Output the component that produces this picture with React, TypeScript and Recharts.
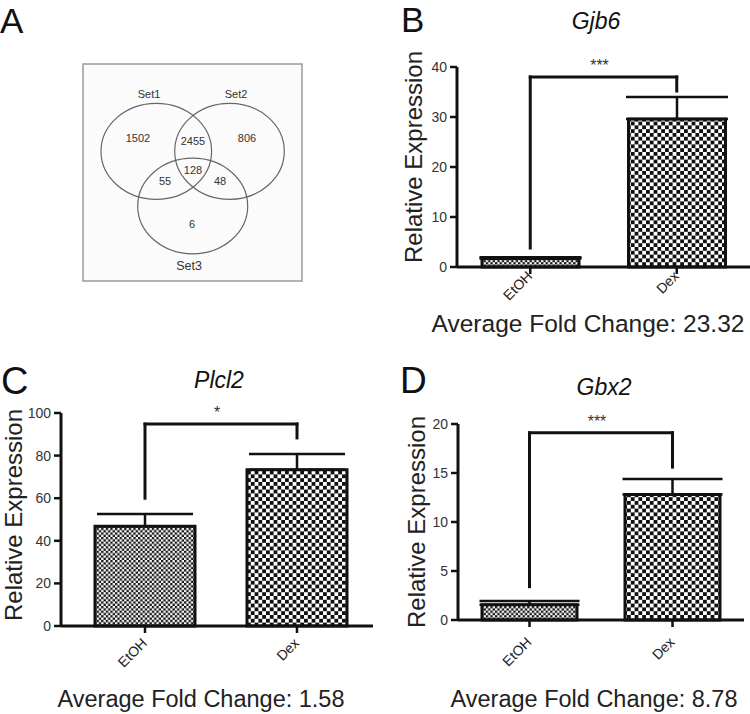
import React from 'react';
import {
  BarChart,
  Bar,
  XAxis,
  YAxis,
  ErrorBar,
  Cell,
  ReferenceLine,
  ScatterChart,
  Scatter,
  ReferenceArea,
} from 'recharts';

const FONT = '"Liberation Sans", Arial, Helvetica, sans-serif';

// ---------- data ----------
const groups = ['EtOH', 'Dex'];

const gjb6Mean = [1.7, 29.6];
const gjb6Sem = [0.25, 4.4];
const gjb6Ticks = [0, 10, 20, 30, 40];
const gjb6Bracket = [38, 3.8, 35.2]; // top, left leg end, right leg end
const gjb6Stars = '***';
const gjb6Fold = 'Average Fold Change: 23.32';

const plcl2Mean = [46.8, 73.4];
const plcl2Sem = [5.8, 7.4];
const plcl2Ticks = [0, 20, 40, 60, 80, 100];
const plcl2Bracket = [94.8, 60, 88.3];
const plcl2Stars = '*';
const plcl2Fold = 'Average Fold Change: 1.58';

const gbx2Mean = [1.55, 12.8];
const gbx2Sem = [0.4, 1.6];
const gbx2Ticks = [0, 5, 10, 15, 20];
const gbx2Bracket = [19.1, 3.4, 15.6];
const gbx2Stars = '***';
const gbx2Fold = 'Average Fold Change: 8.78';

const vennSetNames = ['Set1', 'Set2', 'Set3'];
const vennSetX = [156.3, 229.5, 192.7];
const vennSetY = [151.3, 151.3, 206];
const vennSetRx = [55.3, 54.8, 55];
const vennSetRy = [48, 48, 47.8];
const vennSetLabelX = [149, 236, 189];
const vennSetLabelY = [94, 94, 266];
const vennCounts = ['1502', '2455', '806', '128', '55', '48', '6'];
const vennCountX = [138, 193, 247, 193, 165, 220, 192];
const vennCountY = [138, 141, 138, 170, 181, 181, 224];

// ---------- helpers ----------
function Patterns({ id }: { id: string }) {
  const s = 2.3;
  const b = 3.8;
  return (
    <defs>
      <pattern id={`small-${id}`} width={2 * s} height={2 * s} patternUnits="userSpaceOnUse">
        <rect width={2 * s} height={2 * s} fill="#fff" />
        <rect width={s} height={s} fill="#111" />
        <rect x={s} y={s} width={s} height={s} fill="#111" />
      </pattern>
      <pattern id={`big-${id}`} width={2 * b} height={2 * b} patternUnits="userSpaceOnUse">
        <rect width={2 * b} height={2 * b} fill="#fff" />
        <rect width={b} height={b} fill="#111" />
        <rect x={b} y={b} width={b} height={b} fill="#111" />
      </pattern>
    </defs>
  );
}

function XTick(props: any) {
  const { x, y, payload, dyOff } = props;
  const ax = x + 3;
  const ay = y + dyOff;
  return (
    <text
      x={ax}
      y={ay}
      transform={`rotate(-45, ${ax}, ${ay})`}
      textAnchor="end"
      fontSize={14}
      fill="#222"
      fontFamily={FONT}
    >
      {payload.value}
    </text>
  );
}

type PanelProps = {
  id: string;
  mean: number[];
  sem: number[];
  ticks: number[];
  bracket: number[];
  stars: string;
  left: number;
  top: number;
  width: number;
  height: number;
  margin: { top: number; right: number; bottom: number; left: number };
  yAxisWidth: number;
  padLeft: number;
  barSize: number;
  capWidth: number;
  xTickDy: number;
  yLabelX: number;
  yLabelY: number;
  tickFont: number;
};

const X_AXIS_H = 30;

function Panel(p: PanelProps) {
  const data = groups.map((g, i) => ({ group: g, value: p.mean[i], err: [0, p.sem[i]] }));
  const fills = [`url(#small-${p.id})`, `url(#big-${p.id})`];
  const max = p.ticks[p.ticks.length - 1];
  const [bTop, bLeft, bRight] = p.bracket;
  const lineProps = { stroke: '#111', strokeWidth: 3, strokeLinecap: 'square' as const, ifOverflow: 'visible' as const };
  const margin = { ...p.margin, bottom: p.margin.bottom - X_AXIS_H };
  return (
    <div style={{ position: 'absolute', left: p.left, top: p.top }}>
      <BarChart width={p.width} height={p.height} data={data} margin={margin}>
        <Patterns id={p.id} />
        <XAxis
          dataKey="group"
          interval={0}
          height={X_AXIS_H}
          padding={{ left: p.padLeft, right: 0 }}
          axisLine={{ stroke: '#111', strokeWidth: 3 }}
          tickLine={{ stroke: '#111', strokeWidth: 2.5 }}
          tickSize={7}
          tick={<XTick dyOff={p.xTickDy} />}
        />
        <YAxis
          domain={[0, max]}
          ticks={p.ticks}
          interval={0}
          width={p.yAxisWidth}
          axisLine={{ stroke: '#111', strokeWidth: 3 }}
          tickLine={{ stroke: '#111', strokeWidth: 2.5 }}
          tickSize={7}
          tickMargin={3}
          tick={{ fontSize: p.tickFont, fill: '#333', fontFamily: FONT }}
          label={() => (
            <text
              x={p.yLabelX}
              y={p.yLabelY}
              transform={`rotate(-90, ${p.yLabelX}, ${p.yLabelY})`}
              textAnchor="middle"
              fontSize={24}
              fill="#222"
              fontFamily={FONT}
            >
              Relative Expression
            </text>
          )}
        />
        <Bar dataKey="value" barSize={p.barSize} stroke="#111" strokeWidth={3} isAnimationActive={false}>
          {data.map((d, i) => (
            <Cell key={d.group} fill={fills[i]} />
          ))}
          <ErrorBar
            dataKey="err"
            direction="y"
            width={p.capWidth}
            stroke="#111"
            strokeWidth={2.5}
            isAnimationActive={false}
          />
        </Bar>
        <ReferenceLine
          segment={[
            { x: groups[0], y: bTop },
            { x: groups[1], y: bTop },
          ]}
          {...lineProps}
          label={(lp: any) => {
            const vb = lp.viewBox || {};
            return (
              <text
                x={vb.x + vb.width / 2 - 4}
                y={vb.y - 6}
                textAnchor="middle"
                fontSize={16}
                fill="#333"
                fontFamily={FONT}
              >
                {p.stars}
              </text>
            );
          }}
        />
        <ReferenceLine
          segment={[
            { x: groups[0], y: bTop },
            { x: groups[0], y: bLeft },
          ]}
          {...lineProps}
        />
        <ReferenceLine
          segment={[
            { x: groups[1], y: bTop },
            { x: groups[1], y: bRight },
          ]}
          {...lineProps}
        />
      </BarChart>
    </div>
  );
}

function Venn() {
  const sets = vennSetNames.map((n, i) => ({
    name: n,
    x: vennSetX[i],
    y: vennSetY[i],
    rx: vennSetRx[i],
    ry: vennSetRy[i],
  }));
  const setLabels = vennSetNames.map((n, i) => ({ name: n, x: vennSetLabelX[i], y: vennSetLabelY[i] }));
  const counts = vennCounts.map((c, i) => ({ name: c, x: vennCountX[i], y: vennCountY[i] }));
  return (
    <div style={{ position: 'absolute', left: 73, top: 54 }}>
      <ScatterChart width={239} height={237} margin={{ top: 0, right: 0, bottom: 0, left: 0 }}>
        <XAxis type="number" dataKey="x" domain={[73, 312]} hide height={0} />
        <YAxis type="number" dataKey="y" domain={[54, 291]} reversed hide width={0} />
        <ReferenceArea
          x1={83}
          x2={302}
          y1={64}
          y2={281}
          fill="#fbfbfb"
          fillOpacity={1}
          stroke="#9a9a9a"
          strokeWidth={1.5}
        />
        <Scatter
          data={sets}
          isAnimationActive={false}
          shape={(sp: any) => (
            <ellipse
              cx={sp.cx}
              cy={sp.cy}
              rx={sp.payload.rx}
              ry={sp.payload.ry}
              fill="none"
              stroke="#666"
              strokeWidth={1.2}
            />
          )}
        />
        <Scatter
          data={setLabels}
          isAnimationActive={false}
          shape={(sp: any) => (
            <text
              x={sp.cx}
              y={sp.cy}
              dy="0.35em"
              textAnchor="middle"
              fontSize={sp.payload.name === 'Set3' ? 12.5 : 11}
              fill="#333"
              fontFamily={FONT}
            >
              {sp.payload.name}
            </text>
          )}
        />
        <Scatter
          data={counts}
          isAnimationActive={false}
          shape={(sp: any) => (
            <text
              x={sp.cx}
              y={sp.cy}
              dy="0.35em"
              textAnchor="middle"
              fontSize={11}
              fill="#333"
              fontFamily={FONT}
            >
              {sp.payload.name}
            </text>
          )}
        />
      </ScatterChart>
    </div>
  );
}

export default function App() {
  return (
    <div
      style={{
        position: 'absolute',
        left: 0,
        top: 0,
        width: 750,
        height: 714,
        background: '#fff',
        overflow: 'hidden',
        fontFamily: FONT,
      }}
    >
      <Venn />
      <Panel
        id="B"
        mean={gjb6Mean}
        sem={gjb6Sem}
        ticks={gjb6Ticks}
        bracket={gjb6Bracket}
        stars={gjb6Stars}
        left={380}
        top={0}
        width={370}
        height={320}
        margin={{ top: 67, right: 0, bottom: 53, left: 0 }}
        yAxisWidth={77}
        padLeft={0}
        barSize={97}
        capWidth={51}
        xTickDy={1}
        yLabelX={42}
        yLabelY={157}
        tickFont={14}
      />
      <Panel
        id="C"
        mean={plcl2Mean}
        sem={plcl2Sem}
        ticks={plcl2Ticks}
        bracket={plcl2Bracket}
        stars={plcl2Stars}
        left={0}
        top={330}
        width={380}
        height={384}
        margin={{ top: 83, right: 7, bottom: 88, left: 0 }}
        yAxisWidth={61}
        padLeft={8}
        barSize={100}
        capWidth={48}
        xTickDy={9}
        yLabelX={22}
        yLabelY={185}
        tickFont={14}
      />
      <Panel
        id="D"
        mean={gbx2Mean}
        sem={gbx2Sem}
        ticks={gbx2Ticks}
        bracket={gbx2Bracket}
        stars={gbx2Stars}
        left={380}
        top={330}
        width={370}
        height={384}
        margin={{ top: 94, right: 6, bottom: 94, left: 0 }}
        yAxisWidth={78}
        padLeft={0}
        barSize={95}
        capWidth={50}
        xTickDy={14}
        yLabelX={45}
        yLabelY={192}
        tickFont={14}
      />
      <svg
        width={750}
        height={714}
        style={{ position: 'absolute', left: 0, top: 0, pointerEvents: 'none' }}
        fontFamily={FONT}
      >
        <text x={0} y={33} fontSize={35} fill="#111">A</text>
        <text x={401} y={32} fontSize={35} fill="#111">B</text>
        <text x={1} y={394} fontSize={38} fill="#111">C</text>
        <text x={400} y={393} fontSize={37} fill="#111">D</text>

        <text x={596} y={29} fontSize={23} fontStyle="italic" textAnchor="middle" fill="#111">Gjb6</text>
        <text x={219} y={388} fontSize={23} fontStyle="italic" textAnchor="middle" fill="#111">Plcl2</text>
        <text x={604} y={395} fontSize={23} fontStyle="italic" textAnchor="middle" fill="#111">Gbx2</text>

        <text x={588} y={332} fontSize={24.5} textAnchor="middle" fill="#222">{gjb6Fold}</text>
        <text x={201} y={707} fontSize={23.5} textAnchor="middle" fill="#222">{plcl2Fold}</text>
        <text x={594} y={707} fontSize={23.5} textAnchor="middle" fill="#222">{gbx2Fold}</text>
      </svg>
    </div>
  );
}
